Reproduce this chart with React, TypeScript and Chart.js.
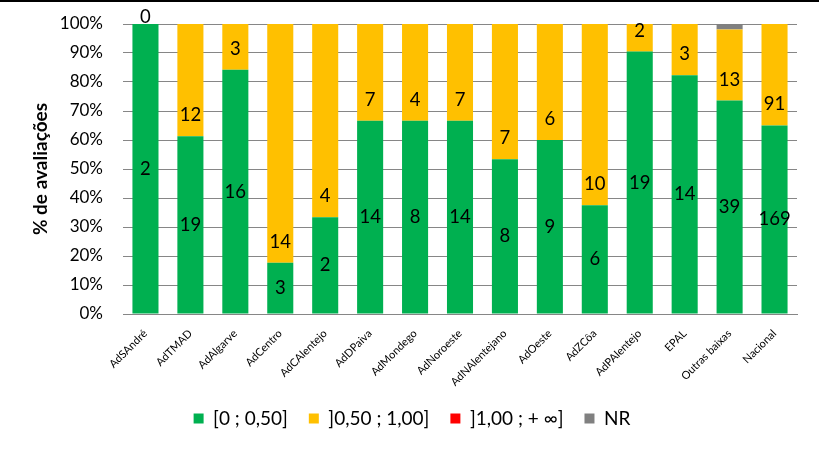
import React, { useEffect, useRef } from "react";
import { Chart, registerables } from "chart.js";

Chart.register(...registerables);

const categories = [
  "AdSAndré", "AdTMAD", "AdAlgarve", "AdCentro", "AdCAlentejo", "AdDPaiva", "AdMondego",
  "AdNoroeste", "AdNAlentejano", "AdOeste", "AdZCôa", "AdPAlentejo", "EPAL", "Outras baixas", "Nacional",
];
const countLow = [2, 19, 16, 3, 2, 14, 8, 14, 8, 9, 6, 19, 14, 39, 169];
const countMid = [0, 12, 3, 14, 4, 7, 4, 7, 7, 6, 10, 2, 3, 13, 91];
const countHigh = [0, 0, 0, 0, 0, 0, 0, 0, 0, 0, 0, 0, 0, 0, 0];
const countNR = [0, 0, 0, 0, 0, 0, 0, 0, 0, 0, 0, 0, 0, 1, 0];
const seriesNames = ["[0 ; 0,50]", "]0,50 ; 1,00]", "]1,00 ; + ∞]", "NR"];
const yTicks = [0, 10, 20, 30, 40, 50, 60, 70, 80, 90, 100];

const FONT = "Lato, 'Noto Sans', sans-serif";

export default function App() {
  const ref = useRef<HTMLCanvasElement>(null);
  useEffect(() => {
    const counts = [countLow, countMid, countHigh, countNR];
    const totals = categories.map((_, i) => counts.reduce((s, c) => s + c[i], 0));
    const pct = (arr: number[]) => arr.map((v, i) => (totals[i] ? (v / totals[i]) * 100 : 0));
    const colors = ["#00B050", "#FFC000", "#FF0000", "#808080"];

    const labelPlugin = {
      id: "segLabels",
      afterDatasetsDraw(chart: any) {
        const ctx = chart.ctx;
        ctx.save();
        ctx.font = `18.5px ${FONT}`;
        ctx.fillStyle = "#000";
        ctx.textAlign = "center";
        ctx.textBaseline = "middle";
        // green: centered in segment
        chart.getDatasetMeta(0).data.forEach((el: any, i: number) => {
          const { x, y, base } = el.getProps(["x", "y", "base"], true);
          ctx.fillText(String(countLow[i]), x, (y + base) / 2);
        });
        // yellow: near the base of the segment (zero-size segments just above)
        chart.getDatasetMeta(1).data.forEach((el: any, i: number) => {
          const { x, base } = el.getProps(["x", "base"], true);
          const v = countMid[i];
          ctx.fillText(String(v), x, v === 0 ? base - 7 : base - 21);
        });
        ctx.restore();
      },
    };

    const chart = new Chart(ref.current!, {
      type: "bar",
      data: {
        labels: categories,
        datasets: counts.map((c, k) => ({
          label: seriesNames[k],
          data: pct(c),
          backgroundColor: colors[k],
          borderWidth: 0,
          categoryPercentage: 1,
          barPercentage: 0.58,
        })),
      },
      options: {
        responsive: false,
        animation: false,
        layout: { padding: { left: 27, right: 22, top: 24, bottom: 13 } },
        plugins: {
          legend: {
            position: "bottom",
            labels: {
              boxWidth: 10,
              boxHeight: 10,
              padding: 21,
              color: "#000",
              font: { family: FONT, size: 19 },
            },
          },
          tooltip: { enabled: false },
        },
        scales: {
          x: {
            stacked: true,
            grid: { display: false, drawTicks: false },
            border: { color: "#868686", width: 1 },
            ticks: {
              maxRotation: 45,
              minRotation: 45,
              autoSkip: false,
              padding: 13,
              color: "#000",
              font: { family: FONT, size: 11 },
            },
            afterFit: (s: any) => { s.height = 74; },
          },
          y: {
            stacked: true,
            min: 0,
            max: 100,
            afterBuildTicks: (s: any) => { s.ticks = yTicks.map((v) => ({ value: v })); },
            grid: { color: "#868686", drawTicks: false },
            border: { display: false },
            ticks: {
              padding: 20,
              color: "#000",
              font: { family: FONT, size: 17 },
              callback: (v: any) => v + "%",
            },
            title: {
              display: true,
              text: "% de avaliações",
              color: "#000",
              font: { family: FONT, size: 19, weight: "bold" },
              padding: { top: 2, bottom: 0 },
            },
            afterFit: (s: any) => {
              s.width = 96;
              s.paddingTop = 0;
              s.paddingBottom = 0;
            },
          },
        },
      },
      plugins: [labelPlugin],
    });
    return () => chart.destroy();
  }, []);

  return (
    <div style={{ position: "absolute", left: 0, top: 0, width: 819, height: 451, background: "#fff" }}>
      <div style={{ position: "absolute", left: 0, top: 0, width: 819, height: 2, background: "#000" }} />
      <canvas ref={ref} width={819} height={451} style={{ display: "block" }} />
    </div>
  );
}
